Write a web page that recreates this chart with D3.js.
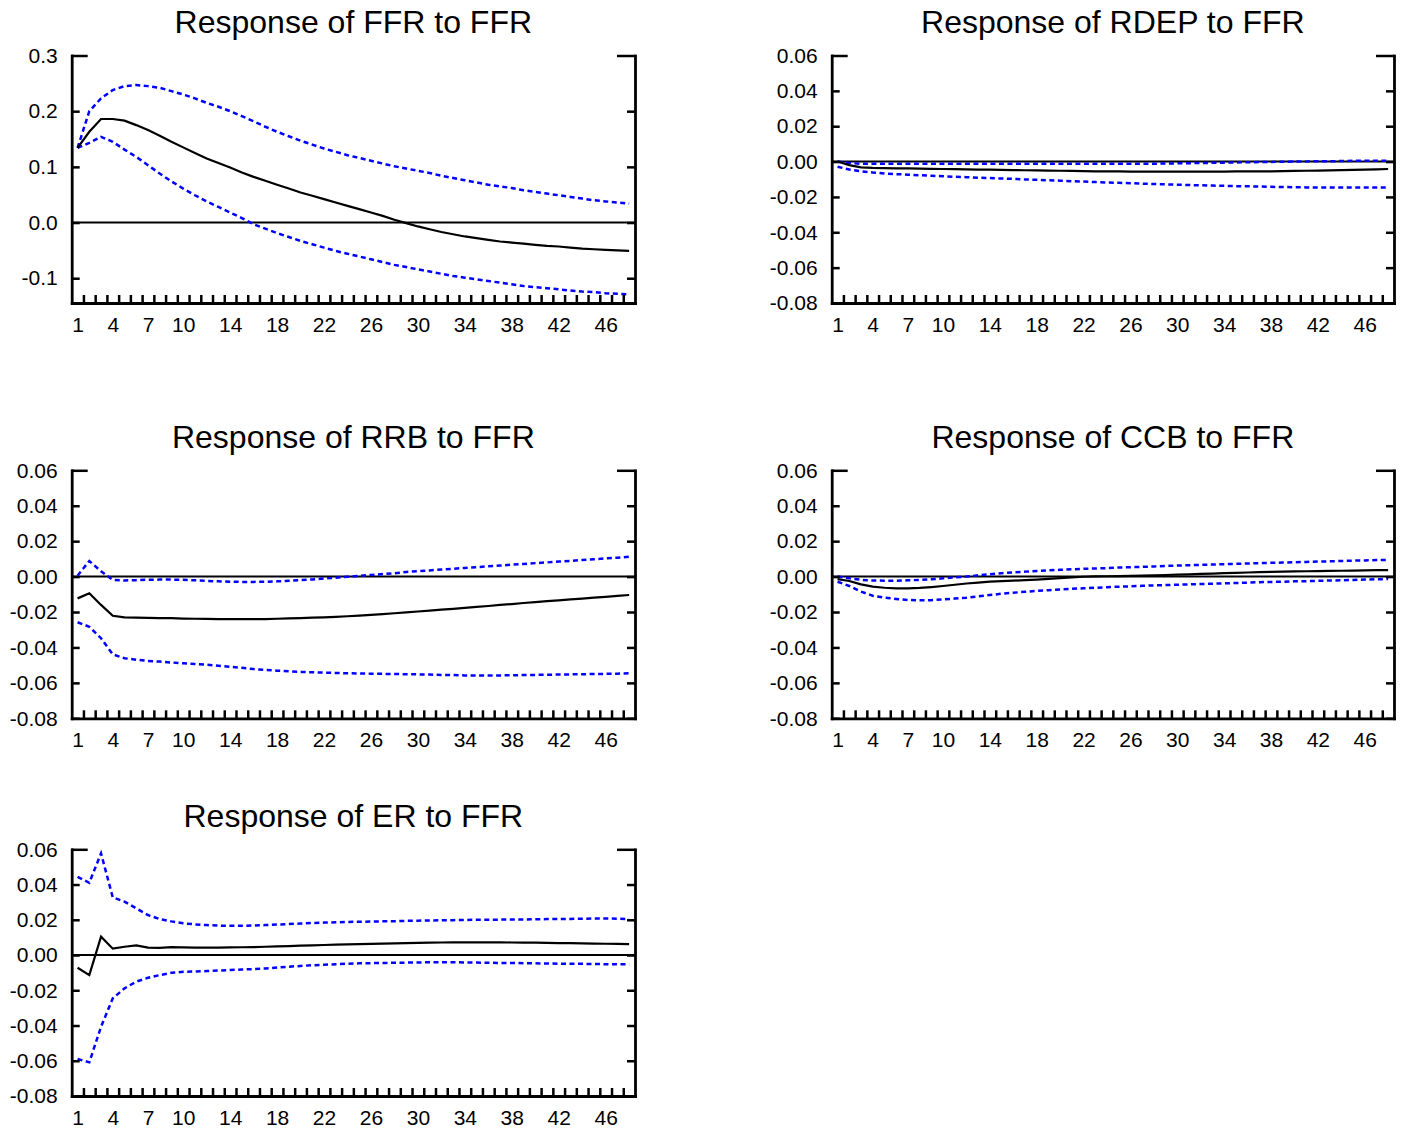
<!DOCTYPE html>
<html>
<head>
<meta charset="utf-8">
<script src="https://cdn.jsdelivr.net/npm/d3@7"></script>
<style>
  html, body { margin: 0; padding: 0; background: #fff; }
  svg text { font-family: "Liberation Sans", Arial, Helvetica, sans-serif; fill: #000; }
</style>
</head>
<body>
<svg id="chart" width="1403" height="1130"></svg>
<script>
// Horizon (periods) and the labelled periods on the x axis
const periods = [1,2,3,4,5,6,7,8,9,10,11,12,13,14,15,16,17,18,19,20,21,22,23,24,
                 25,26,27,28,29,30,31,32,33,34,35,36,37,38,39,40,41,42,43,44,45,46,47,48];
const xTickLabels = [1,4,7,10,14,18,22,26,30,34,38,42,46];

// Y tick labels
const yTicksFFR = [-0.1, 0.0, 0.1, 0.2, 0.3];
const yTicksSmall = [-0.08, -0.06, -0.04, -0.02, 0.00, 0.02, 0.04, 0.06];

// Response of FFR to FFR
const ffrResp = [0.134,0.163,0.186,0.186,0.183,0.175,0.166,0.156,0.145,0.135,
  0.125,0.115,0.107,0.099,0.090,0.082,0.075,0.068,0.061,0.054,
  0.048,0.042,0.036,0.030,0.024,0.018,0.012,0.005,-0.001,-0.007,
  -0.012,-0.017,-0.021,-0.025,-0.028,-0.031,-0.034,-0.036,-0.038,-0.040,
  -0.042,-0.043,-0.045,-0.047,-0.048,-0.049,-0.050,-0.051];
const ffrUpper = [0.134,0.200,0.223,0.238,0.245,0.247,0.245,0.242,0.236,0.230,
  0.223,0.215,0.208,0.200,0.191,0.182,0.172,0.163,0.155,0.147,
  0.140,0.133,0.127,0.121,0.116,0.111,0.106,0.101,0.097,0.093,
  0.089,0.084,0.080,0.076,0.072,0.068,0.065,0.062,0.058,0.055,
  0.052,0.049,0.046,0.043,0.040,0.038,0.036,0.034];
const ffrLower = [0.134,0.143,0.154,0.145,0.131,0.118,0.103,0.088,0.074,0.061,
  0.049,0.038,0.028,0.018,0.008,-0.003,-0.011,-0.019,-0.026,-0.033,
  -0.039,-0.045,-0.051,-0.056,-0.061,-0.066,-0.071,-0.076,-0.080,-0.084,
  -0.088,-0.092,-0.096,-0.099,-0.102,-0.105,-0.108,-0.111,-0.114,-0.116,
  -0.118,-0.120,-0.122,-0.124,-0.125,-0.127,-0.128,-0.129];

// Response of RDEP to FFR
const rdepResp = [0.0000,-0.0020,-0.0033,-0.0036,-0.0037,-0.0038,-0.0039,-0.0040,-0.0041,-0.0042,
  -0.0043,-0.0044,-0.0045,-0.0046,-0.0047,-0.0048,-0.0049,-0.0050,-0.0051,-0.0052,
  -0.0053,-0.0054,-0.0055,-0.0056,-0.0056,-0.0057,-0.0057,-0.0057,-0.0057,-0.0057,
  -0.0057,-0.0057,-0.0057,-0.0057,-0.0056,-0.0056,-0.0055,-0.0055,-0.0054,-0.0053,
  -0.0052,-0.0051,-0.0050,-0.0048,-0.0047,-0.0045,-0.0044,-0.0042];
const rdepUpper = [0.0000,-0.0008,-0.0013,-0.0013,-0.0013,-0.0013,-0.0013,-0.0013,-0.0013,-0.0013,
  -0.0013,-0.0013,-0.0013,-0.0013,-0.0013,-0.0013,-0.0013,-0.0013,-0.0013,-0.0013,
  -0.0012,-0.0012,-0.0012,-0.0012,-0.0012,-0.0012,-0.0012,-0.0012,-0.0011,-0.0010,
  -0.0009,-0.0008,-0.0007,-0.0006,-0.0005,-0.0004,-0.0003,-0.0002,-0.0001,0.0000,
  0.0001,0.0002,0.0002,0.0003,0.0004,0.0004,0.0005,0.0005];
const rdepLower = [-0.0029,-0.0045,-0.0055,-0.0062,-0.0067,-0.0071,-0.0074,-0.0077,-0.0080,-0.0083,
  -0.0086,-0.0088,-0.0091,-0.0093,-0.0096,-0.0098,-0.0101,-0.0103,-0.0106,-0.0108,
  -0.0111,-0.0113,-0.0116,-0.0118,-0.0120,-0.0122,-0.0125,-0.0127,-0.0129,-0.0131,
  -0.0133,-0.0134,-0.0136,-0.0137,-0.0139,-0.0140,-0.0141,-0.0143,-0.0144,-0.0145,
  -0.0146,-0.0147,-0.0147,-0.0147,-0.0147,-0.0147,-0.0146,-0.0146];

// Response of RRB to FFR
const rrbResp = [-0.0123,-0.0094,-0.0160,-0.0221,-0.0230,-0.0232,-0.0233,-0.0234,-0.0235,-0.0237,
  -0.0238,-0.0239,-0.0240,-0.0240,-0.0240,-0.0240,-0.0240,-0.0238,-0.0236,-0.0234,
  -0.0232,-0.0230,-0.0227,-0.0224,-0.0220,-0.0216,-0.0212,-0.0207,-0.0202,-0.0197,
  -0.0192,-0.0187,-0.0182,-0.0177,-0.0171,-0.0166,-0.0160,-0.0155,-0.0149,-0.0144,
  -0.0139,-0.0134,-0.0129,-0.0124,-0.0119,-0.0114,-0.0109,-0.0104];
const rrbUpper = [0.0005,0.0088,0.0030,-0.0019,-0.0022,-0.0020,-0.0018,-0.0017,-0.0017,-0.0018,
  -0.0021,-0.0024,-0.0027,-0.0029,-0.0030,-0.0030,-0.0029,-0.0027,-0.0024,-0.0020,
  -0.0016,-0.0011,-0.0006,-0.0001,0.0004,0.0009,0.0014,0.0019,0.0026,0.0031,
  0.0035,0.0040,0.0044,0.0049,0.0053,0.0058,0.0062,0.0067,0.0071,0.0076,
  0.0080,0.0085,0.0089,0.0094,0.0098,0.0103,0.0107,0.0112];
const rrbLower = [-0.0258,-0.0283,-0.0348,-0.0439,-0.0461,-0.0469,-0.0476,-0.0480,-0.0485,-0.0489,
  -0.0493,-0.0497,-0.0503,-0.0509,-0.0515,-0.0522,-0.0527,-0.0531,-0.0535,-0.0538,
  -0.0540,-0.0542,-0.0544,-0.0546,-0.0547,-0.0548,-0.0549,-0.0550,-0.0551,-0.0552,
  -0.0553,-0.0555,-0.0556,-0.0558,-0.0558,-0.0558,-0.0558,-0.0557,-0.0556,-0.0555,
  -0.0554,-0.0553,-0.0552,-0.0551,-0.0550,-0.0549,-0.0548,-0.0546];

// Response of CCB to FFR
const ccbResp = [-0.0014,-0.0025,-0.0044,-0.0057,-0.0063,-0.0066,-0.0066,-0.0064,-0.0059,-0.0053,
  -0.0046,-0.0039,-0.0034,-0.0029,-0.0026,-0.0023,-0.0020,-0.0017,-0.0013,-0.0009,
  -0.0005,-0.0001,0.0001,0.0002,0.0003,0.0004,0.0005,0.0007,0.0009,0.0011,
  0.0013,0.0015,0.0017,0.0019,0.0021,0.0023,0.0025,0.0027,0.0028,0.0029,
  0.0030,0.0031,0.0032,0.0033,0.0034,0.0035,0.0036,0.0037];
const ccbUpper = [0.0000,-0.0010,-0.0018,-0.0022,-0.0023,-0.0023,-0.0021,-0.0019,-0.0015,-0.0010,
  -0.0005,0.0000,0.0007,0.0013,0.0019,0.0024,0.0028,0.0032,0.0035,0.0038,
  0.0041,0.0044,0.0046,0.0048,0.0051,0.0053,0.0055,0.0057,0.0060,0.0062,
  0.0064,0.0066,0.0068,0.0070,0.0072,0.0074,0.0076,0.0078,0.0079,0.0081,
  0.0083,0.0085,0.0086,0.0088,0.0090,0.0091,0.0093,0.0094];
const ccbLower = [-0.0029,-0.0053,-0.0085,-0.0108,-0.0119,-0.0126,-0.0132,-0.0134,-0.0133,-0.0129,
  -0.0124,-0.0119,-0.0112,-0.0104,-0.0097,-0.0091,-0.0086,-0.0081,-0.0077,-0.0073,
  -0.0069,-0.0066,-0.0063,-0.0060,-0.0057,-0.0055,-0.0052,-0.0050,-0.0048,-0.0046,
  -0.0044,-0.0042,-0.0040,-0.0038,-0.0036,-0.0034,-0.0032,-0.0030,-0.0029,-0.0027,
  -0.0026,-0.0024,-0.0022,-0.0021,-0.0019,-0.0017,-0.0015,-0.0014];

// Response of ER to FFR
const erResp = [-0.0072,-0.0114,0.0104,0.0036,0.0047,0.0055,0.0042,0.0041,0.0045,0.0043,
  0.0042,0.0042,0.0042,0.0043,0.0044,0.0045,0.0047,0.0049,0.0051,0.0053,
  0.0055,0.0057,0.0059,0.0061,0.0062,0.0063,0.0065,0.0066,0.0068,0.0069,
  0.0070,0.0071,0.0072,0.0072,0.0072,0.0072,0.0072,0.0071,0.0070,0.0070,
  0.0069,0.0068,0.0067,0.0066,0.0065,0.0064,0.0063,0.0062];
const erUpper = [0.0444,0.0410,0.0577,0.0327,0.0303,0.0265,0.0227,0.0204,0.0191,0.0180,
  0.0174,0.0170,0.0167,0.0166,0.0166,0.0168,0.0170,0.0173,0.0176,0.0179,
  0.0182,0.0184,0.0186,0.0188,0.0189,0.0190,0.0191,0.0192,0.0194,0.0195,
  0.0196,0.0197,0.0198,0.0199,0.0200,0.0200,0.0201,0.0202,0.0202,0.0203,
  0.0204,0.0204,0.0205,0.0206,0.0207,0.0208,0.0206,0.0203];
const erLower = [-0.0590,-0.0609,-0.0407,-0.0246,-0.0189,-0.0151,-0.0129,-0.0114,-0.0101,-0.0095,
  -0.0093,-0.0091,-0.0088,-0.0085,-0.0082,-0.0080,-0.0076,-0.0071,-0.0066,-0.0062,
  -0.0058,-0.0055,-0.0052,-0.0049,-0.0047,-0.0046,-0.0045,-0.0044,-0.0043,-0.0042,
  -0.0041,-0.0041,-0.0041,-0.0042,-0.0043,-0.0044,-0.0045,-0.0045,-0.0046,-0.0047,
  -0.0048,-0.0049,-0.0050,-0.0050,-0.0051,-0.0052,-0.0053,-0.0053];

const titles = ["Response of FFR to FFR", "Response of RDEP to FFR", "Response of RRB to FFR",
                "Response of CCB to FFR", "Response of ER to FFR"];

// Panel specs: data references plus frame placement
const panels = [
  { title: titles[0], resp: ffrResp,  upper: ffrUpper,  lower: ffrLower,
    yDomain: [-0.1445, 0.3], yTicks: yTicksFFR, digits: 1,
    left: 71.7, top: 55.5, width: 563.3, height: 247.5 },
  { title: titles[1], resp: rdepResp, upper: rdepUpper, lower: rdepLower,
    yDomain: [-0.08, 0.06], yTicks: yTicksSmall, digits: 2,
    left: 831.7, top: 55.5, width: 562.3, height: 247.5 },
  { title: titles[2], resp: rrbResp,  upper: rrbUpper,  lower: rrbLower,
    yDomain: [-0.08, 0.06], yTicks: yTicksSmall, digits: 2,
    left: 71.7, top: 470.3, width: 563.3, height: 248 },
  { title: titles[3], resp: ccbResp,  upper: ccbUpper,  lower: ccbLower,
    yDomain: [-0.08, 0.06], yTicks: yTicksSmall, digits: 2,
    left: 831.7, top: 470.3, width: 562.3, height: 248 },
  { title: titles[4], resp: erResp,   upper: erUpper,   lower: erLower,
    yDomain: [-0.08, 0.06], yTicks: yTicksSmall, digits: 2,
    left: 71.7, top: 849.3, width: 563.3, height: 246.7 }
];

const svg = d3.select("#chart");
const minorTicks = periods.slice(0, -1).map(p => p + 0.5);

panels.forEach(p => {
  const g = svg.append("g").attr("transform", `translate(${p.left},${p.top})`);
  const x = d3.scaleLinear().domain([0.5, 48.5]).range([0, p.width]);
  const y = d3.scaleLinear().domain(p.yDomain).range([p.height, 0]);
  const line = d3.line().x((d, i) => x(periods[i])).y(d => y(d));

  // title
  g.append("text")
    .attr("x", p.width / 2)
    .attr("y", -22.5)
    .attr("text-anchor", "middle")
    .style("font-size", "32px")
    .text(p.title);

  // zero reference line
  g.append("line")
    .attr("x1", 0).attr("x2", p.width)
    .attr("y1", y(0)).attr("y2", y(0))
    .attr("stroke", "#000").attr("stroke-width", 2);

  // ±2 s.e. bands
  [p.upper, p.lower].forEach(band => {
    g.append("path")
      .datum(band)
      .attr("d", line)
      .attr("fill", "none")
      .attr("stroke", "#0000ff")
      .attr("stroke-width", 2.5)
      .attr("stroke-dasharray", "5,3.5");
  });

  // impulse response
  g.append("path")
    .datum(p.resp)
    .attr("d", line)
    .attr("fill", "none")
    .attr("stroke", "#000")
    .attr("stroke-width", 2.2);

  const fmt = v => v.toFixed(p.digits);
  const topVal = p.yTicks[p.yTicks.length - 1];

  // left axis, ticks pointing inward
  const la = g.append("g")
    .call(d3.axisLeft(y).tickValues(p.yTicks).tickFormat(fmt)
      .tickSizeInner(-8).tickSizeOuter(0).tickPadding(14));
  la.selectAll("text").style("font-size", "21px");
  la.selectAll(".tick line").attr("stroke-width", 2.5)
    .filter(d => d === topVal).attr("x2", 16);

  // right axis, ticks pointing inward
  const ra = g.append("g")
    .attr("transform", `translate(${p.width},0)`)
    .call(d3.axisRight(y).tickValues(p.yTicks).tickFormat("")
      .tickSizeInner(-8).tickSizeOuter(0));
  ra.selectAll(".tick line").attr("stroke-width", 2.5)
    .filter(d => d === topVal).attr("x2", -18);

  // bottom axis: minor ticks at period boundaries
  const ba = g.append("g")
    .attr("transform", `translate(0,${p.height})`)
    .call(d3.axisBottom(x).tickValues(minorTicks).tickFormat("")
      .tickSizeInner(-8).tickSizeOuter(0));
  ba.selectAll(".tick line").attr("stroke-width", 2.5);

  // bottom axis labels
  const bl = g.append("g")
    .attr("transform", `translate(0,${p.height})`)
    .call(d3.axisBottom(x).tickValues(xTickLabels).tickFormat(d3.format("d"))
      .tickSize(0).tickPadding(14));
  bl.select(".domain").remove();
  bl.selectAll("text").style("font-size", "21px");

  [la, ra, ba].forEach(a => a.select(".domain")
    .attr("stroke", "#000").attr("stroke-width", 2.8).attr("stroke-linecap", "square"));
});
</script>
</body>
</html>
